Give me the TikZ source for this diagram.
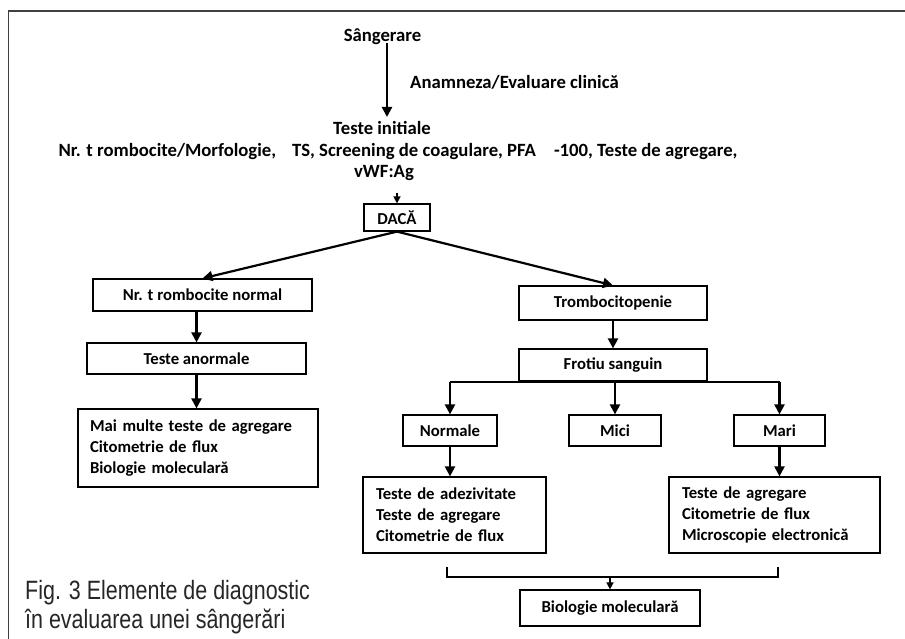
\documentclass[tikz,border=0pt]{standalone}
\usepackage{fontspec}
\setmainfont{Carlito}
\newfontfamily\capfont[FakeStretch=0.81]{Liberation Sans}
\usetikzlibrary{arrows.meta}
\begin{document}
\begin{tikzpicture}[x=1pt,y=-1pt,
  every node/.style={font=\fontsize{16.7}{21}\selectfont\bfseries, inner sep=0pt},
  top/.style={font=\fontsize{18.7}{22}\selectfont\bfseries},
  box/.style={draw, line width=1.2pt, align=center},
  lbox/.style={draw, line width=1.2pt, align=left},
  arr/.style={line width=2.2pt, -{Triangle[length=10pt,width=10pt]}},
  sarr/.style={line width=1.4pt, -{Triangle[length=7pt,width=7pt]}},
  thin/.style={line width=1.3pt}]
\useasboundingbox (0,0) rectangle (905,639);
\fill[white] (0,0) rectangle (905,639);
% frame
\draw[line width=1.8pt, black!75] (8.5,639) -- (8.5,11) -- (905,11);

% top texts
\node[top] (s) at (382.5,37) {Sângerare};
\node[top, anchor=west] (an) at (410,82) {Anamneza/Evaluare clinică};
\node[top] (ti) at (382,128) {Teste initiale};
\node[top] (l2) at (398,152) {Nr. t rombocite/Morfologie,\hspace{16pt}TS, Screening de coagulare, PFA\hspace{18pt}-100, Teste de agregare,};
\node[top] (vw) at (384,173) {vWF:Ag};
\coordinate (s0) at (387,43);
\coordinate (s1) at (387,117);
\draw[arr] (s0) -- (s1);

% boxes
\node[box, minimum width=66pt, minimum height=27pt] (daca) at (397,217.5) {DACĂ};
\coordinate (d0) at (397,193);
\draw[sarr] (d0) -- (daca.north);

\node[box, minimum width=219pt, minimum height=32pt] (nr) at (202.5,295) {Nr. t rombocite normal};
\node[box, minimum width=219pt, minimum height=31pt] (ta) at (196.5,358.5) {Teste anormale};
\node[lbox, minimum width=240pt, minimum height=78pt, text width=216pt] (mm) at (198,448)
  {Mai multe teste de agregare\\Citometrie de flux\\Biologie moleculară};

\node[box, minimum width=188pt, minimum height=34pt] (tr) at (613,303) {Trombocitopenie};
\node[box, minimum width=188pt, minimum height=32pt] (fs) at (613,365) {Frotiu sanguin};
\node[box, minimum width=94pt, minimum height=31pt] (no) at (450,430.5) {Normale};
\node[box, minimum width=92pt, minimum height=31pt] (mi) at (615,430.5) {Mici};
\node[box, minimum width=91pt, minimum height=31pt] (ma) at (779.5,430.5) {Mari};
\node[lbox, minimum width=183pt, minimum height=76pt, text width=157pt] (ad) at (454.5,515)
  {Teste de adezivitate\\Teste de agregare\\Citometrie de flux};
\node[lbox, minimum width=211pt, minimum height=76pt, text width=185pt] (ag) at (774.5,515)
  {Teste de agregare\\Citometrie de flux\\Microscopie electronică};
\node[box, minimum width=180pt, minimum height=36pt] (bm) at (610,608) {Biologie moleculară};

% connectors
\draw[arr] (daca.south) -- (nr.north);
\draw[arr] (daca.south) -- (tr.north);
\draw[arr] (nr.south -| ta.north) -- (ta.north);
\draw[arr] (ta.south) -- (ta.south |- mm.north);
\draw[arr] (tr.south) -- (fs.north);
\draw[line width=1.8pt] (no.north |- fs.south) -- (ma.north |- fs.south);
\draw[arr] (no.north |- fs.south) -- (no.north);
\draw[arr] (mi.north |- fs.south) -- (mi.north);
\draw[arr] (ma.north |- fs.south) -- (ma.north);
\draw[arr] (no.south) -- (no.south |- ad.north);
\draw[arr] (ma.south) -- (ma.south |- ag.north);

% bracket
\coordinate (bl) at (447,567);
\coordinate (br) at (778,567);
\coordinate (bj) at (610,577);
\draw[thin] (bl) -- (bl |- bj) -- (br |- bj) -- (br);
\draw[sarr] (bj) -- (bm.north);

% caption
\node[anchor=west, align=left, font=\capfont\fontsize{26.5}{29.5}\selectfont, text=black!85] (cap) at (25,607)
  {Fig. 3 Elemente de diagnostic\\în evaluarea unei sângerări};
\end{tikzpicture}
\end{document}
